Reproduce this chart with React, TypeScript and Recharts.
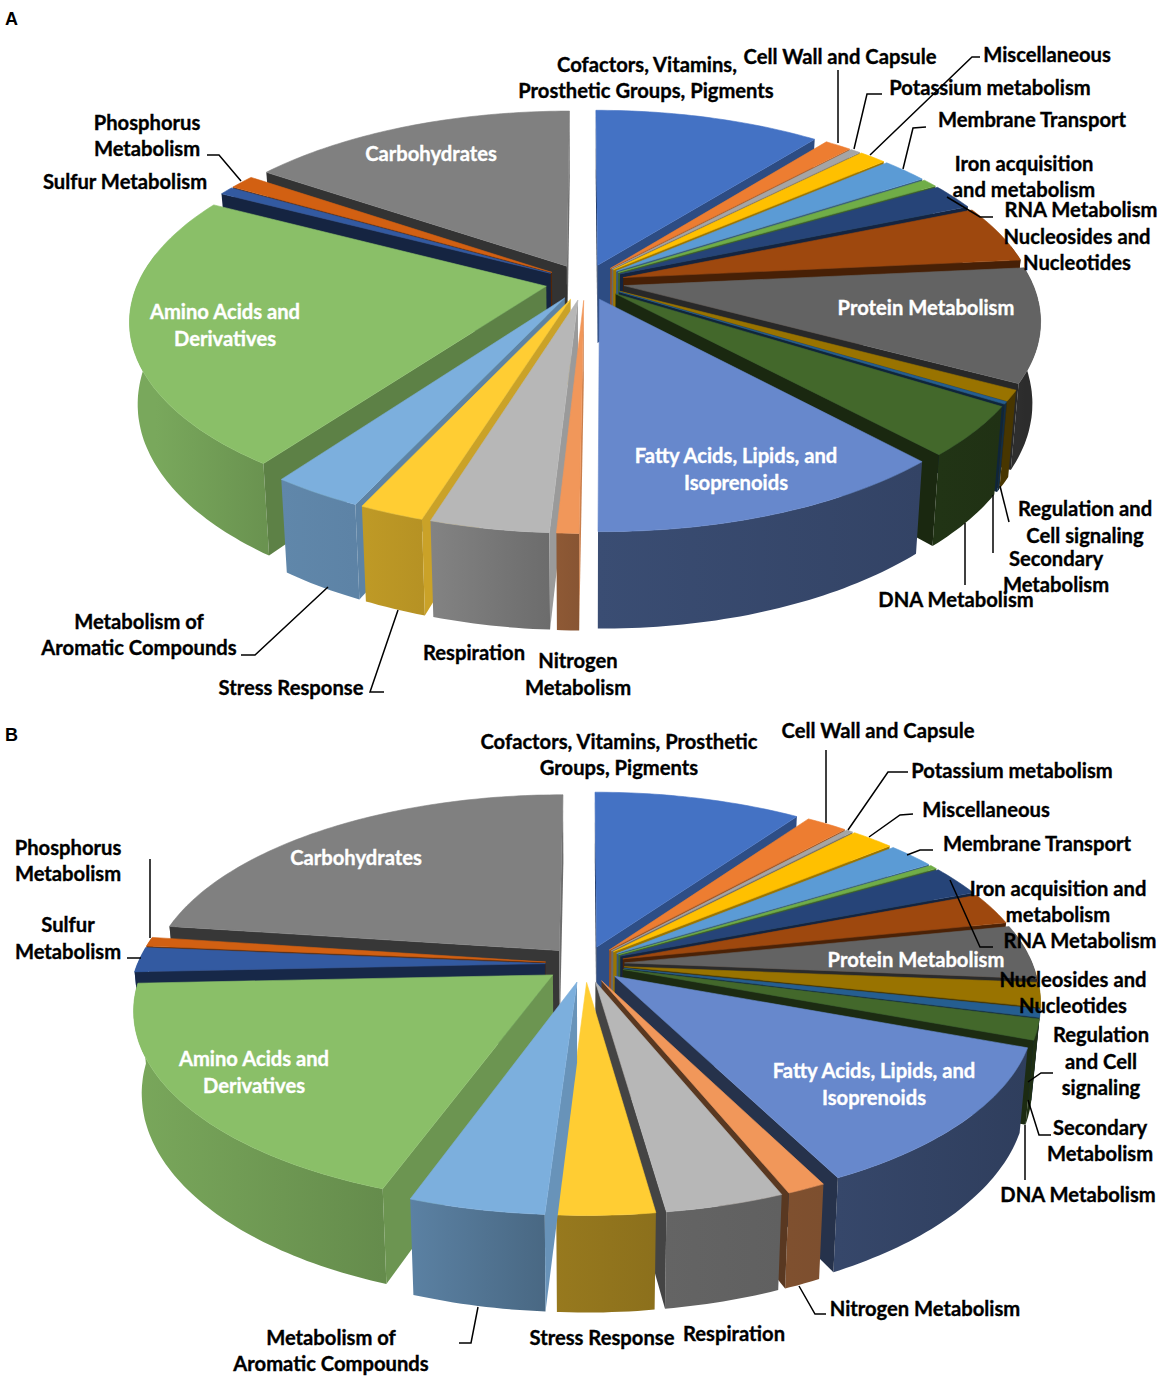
import { PieChart, Pie } from 'recharts';

// Functional categories, clockwise from 12 o'clock
const categories = [
  'Cofactors, Vitamins, Prosthetic Groups, Pigments',
  'Cell Wall and Capsule',
  'Potassium metabolism',
  'Miscellaneous',
  'Membrane Transport',
  'Iron acquisition and metabolism',
  'RNA Metabolism',
  'Nucleosides and Nucleotides',
  'Protein Metabolism',
  'Regulation and Cell signaling',
  'Secondary Metabolism',
  'DNA Metabolism',
  'Fatty Acids, Lipids, and Isoprenoids',
  'Nitrogen Metabolism',
  'Respiration',
  'Stress Response',
  'Metabolism of Aromatic Compounds',
  'Amino Acids and Derivatives',
  'Sulfur Metabolism',
  'Phosphorus Metabolism',
  'Carbohydrates',
];

const valuesA = [10.56, 1.25, 0.47, 1.28, 2.17, 0.72, 2.19, 4.83, 9.5, 0.89, 0.19, 4.17, 11.94, 0.72, 3.89, 2.14, 3.0, 22.86, 0.69, 1.19, 15.39];
const valuesB = [9.67, 1.92, 0.31, 2.0, 2.22, 0.36, 2.56, 2.72, 4.56, 2.03, 0.69, 1.69, 11.89, 1.28, 3.89, 3.17, 4.44, 18.89, 2.08, 0.78, 22.83];

const colors = [
  '#4472C4', '#ED7D31', '#A5A5A5', '#FFC000', '#5B9BD5', '#70AD47', '#264478',
  '#9E480E', '#636363', '#997300', '#255E91', '#43682B', '#6788CC', '#F1975A',
  '#B7B7B7', '#FFCD33', '#7CAFDD', '#8ABF68', '#335AA1', '#D26012', '#808080',
];

// [text, center x, baseline y, white?]
const labelsA: [string, number, number, boolean?][] = [
  ['Cofactors, Vitamins,', 647, 72], ['Prosthetic Groups, Pigments', 646, 98],
  ['Cell Wall and Capsule', 840, 64], ['Miscellaneous', 1047, 62],
  ['Potassium metabolism', 990, 95], ['Membrane Transport', 1032, 127],
  ['Iron acquisition', 1024, 171], ['and metabolism', 1024, 197],
  ['RNA Metabolism', 1081, 217], ['Nucleosides and', 1077, 244], ['Nucleotides', 1077, 270],
  ['Regulation and', 1085, 516], ['Cell signaling', 1085, 543],
  ['Secondary', 1056, 566], ['Metabolism', 1056, 592], ['DNA Metabolism', 956, 607],
  ['Nitrogen', 578, 668], ['Metabolism', 578, 695], ['Respiration', 474, 660],
  ['Stress Response', 291, 695], ['Metabolism of', 139, 629], ['Aromatic Compounds', 139, 655],
  ['Sulfur Metabolism', 125, 189], ['Phosphorus', 147, 130], ['Metabolism', 147, 156],
  ['Protein Metabolism', 926, 315, true], ['Fatty Acids, Lipids, and', 736, 463, true],
  ['Isoprenoids', 736, 490, true], ['Amino Acids and', 225, 319, true],
  ['Derivatives', 225, 346, true], ['Carbohydrates', 431, 161, true],
];
const labelsB: [string, number, number, boolean?][] = [
  ['Cofactors, Vitamins, Prosthetic', 619, 749], ['Groups, Pigments', 619, 775],
  ['Cell Wall and Capsule', 878, 738], ['Potassium metabolism', 1012, 778],
  ['Miscellaneous', 986, 817], ['Membrane Transport', 1037, 851],
  ['Iron acquisition and', 1058, 896], ['metabolism', 1058, 922], ['RNA Metabolism', 1080, 948],
  ['Nucleosides and', 1073, 987], ['Nucleotides', 1073, 1013],
  ['Regulation', 1101, 1042], ['and Cell', 1101, 1069], ['signaling', 1101, 1095],
  ['Secondary', 1100, 1135], ['Metabolism', 1100, 1161], ['DNA Metabolism', 1078, 1202],
  ['Nitrogen Metabolism', 925, 1316], ['Respiration', 734, 1341], ['Stress Response', 602, 1345],
  ['Metabolism of', 331, 1345], ['Aromatic Compounds', 331, 1371],
  ['Sulfur', 68, 932], ['Metabolism', 68, 959], ['Phosphorus', 68, 855], ['Metabolism', 68, 881],
  ['Protein Metabolism', 916, 967, true], ['Fatty Acids, Lipids, and', 874, 1078, true],
  ['Isoprenoids', 874, 1105, true], ['Amino Acids and', 254, 1066, true],
  ['Derivatives', 254, 1093, true], ['Carbohydrates', 356, 865, true],
];

const leadersA = [
  '838,70 838,143', '882,94 867,94 854,149', '980,57 972,57 870,155',
  '926,127 913,128 903,169', '993,217 980,217 947,197', '241,655 255,655 328,587',
  '384,692 370,692 398,610', '207,155 219,155 241,181',
  '1009,522 1000,486', '993,553 993,495', '965,585 965,523',
];
const leadersB = [
  '826,750 826,823', '908,772 888,772 848,830', '913,814 900,815 869,837',
  '933,850 920,850 907,855', '993,947 980,947 950,880', '826,1314 815,1314 799,1286',
  '459,1343 471,1343 478,1307', '150,859 150,938', '127,958 141,958',
  '1053,1073 1041,1073 1028,1082', '1051,1135 1039,1135 1028,1100', '1025,1180 1025,1125',
];

const WIDTH = 1170;
const HEIGHT = 1394;
const FONT = 'Lato, sans-serif';

// 3D look of the Excel chart
const RADIUS = 408;
const TILT = 0.457;
const PERSPECTIVE = 0.17;
const DEPTH = 79;
const EXPLODE = 0.097;
const TAPER = 0.018;

const rad = (d: number) => (d * Math.PI) / 180;
const lerp = (pts: number[][], x: number) => {
  if (x <= pts[0][0]) return pts[0][1];
  for (let i = 1; i < pts.length; i++) {
    if (x <= pts[i][0]) {
      const t = (x - pts[i - 1][0]) / (pts[i][0] - pts[i - 1][0]);
      return pts[i - 1][1] + t * (pts[i][1] - pts[i - 1][1]);
    }
  }
  return pts[pts.length - 1][1];
};
const shade = (hex: string, f: number) => {
  const n = parseInt(hex.slice(1), 16);
  const c = [(n >> 16) & 255, (n >> 8) & 255, n & 255].map((v) => Math.round(v * f));
  return `rgb(${c.join(',')})`;
};
const wallLight = (c: number) => lerp([[100, 0.44], [180, 0.56], [200, 0.74], [270, 0.88]], c);
const sideLight = (n: number) => lerp([[93, 0.84], [110, 0.78], [125, 0.68], [174, 0.45], [210, 0.4], [240, 0.37]], n);

// Draws one slice as an extruded, perspective wedge from the sector the Pie computed
const makeSlice = (panel: string, side: 'right' | 'left') => (props: any) => {
  const { cx, cy, outerRadius, startAngle, endAngle, fill, name } = props;
  let a = 90 - Math.max(startAngle, endAngle);
  let b = 90 - Math.min(startAngle, endAngle);
  if (a < 0) {
    a += 360;
    b += 360;
  }
  const mid = (a + b) / 2;
  if ((mid <= 180) !== (side === 'right')) return <g />;

  const ox = EXPLODE * Math.sin(rad(mid));
  const oy = -EXPLODE * Math.cos(rad(mid));
  const pt = (X: number, Y: number, Z: number) => {
    const s = 1 / (1 - PERSPECTIVE * Y);
    return [cx + outerRadius * X * s * (1 - TAPER * Z), cy + (outerRadius * TILT * Y + DEPTH * Z) * s];
  };
  const rim = (c: number, Z: number) => pt(ox + Math.sin(rad(c)), oy - Math.cos(rad(c)), Z);
  const tip = (Z: number) => pt(ox, oy, Z);
  const path = (pts: number[][]) => 'M' + pts.map((p) => `${p[0].toFixed(1)},${p[1].toFixed(1)}`).join('L') + 'Z';

  const arc: number[] = [];
  for (let c = a; c < b; c += 1) arc.push(c);
  arc.push(b);

  const tipTop = tip(0);
  const faces: any[] = [];

  // side faces, only the ones turned to the viewer
  const sideFace = (edge: number, other: number, normal: number, key: string) => {
    const p = rim(edge, 0);
    const q = rim(other, 0);
    const cross = (p[0] - tipTop[0]) * (q[1] - tipTop[1]) - (p[1] - tipTop[1]) * (q[0] - tipTop[0]);
    const down = p[0] - tipTop[0];
    if (cross * down >= 0) return;
    faces.push(
      <path key={key} d={path([tipTop, p, rim(edge, 1), tip(1)])} fill={shade(fill, sideLight(((normal % 360) + 360) % 360))} />
    );
  };
  sideFace(a, b, a - 90, 's0');
  sideFace(b, a, b + 90, 's1');

  // outer wall, a little past the sides so the silhouette stays full
  const wa = Math.max(a, 80);
  const wb = Math.min(b, 280);
  const gradId = `wall-${panel}-${String(name).replace(/[^A-Za-z]/g, '')}`;
  let wall = null;
  if (wb > wa) {
    const cs = [wa, ...arc.filter((c) => c > wa && c < wb), wb];
    const top = cs.map((c) => rim(c, 0));
    const bottom = cs.map((c) => rim(c, 1)).reverse();
    wall = (
      <g>
        <defs>
          <linearGradient id={gradId} gradientUnits="userSpaceOnUse" x1={rim(wa, 0)[0]} y1={0} x2={rim(wb, 0)[0]} y2={0}>
            <stop offset="0" stopColor={shade(fill, wallLight(wa))} />
            <stop offset="1" stopColor={shade(fill, wallLight(wb))} />
          </linearGradient>
        </defs>
        <path d={path([...top, ...bottom])} fill={`url(#${gradId})`} />
      </g>
    );
  }

  return (
    <g>
      {wall}
      {faces}
      <path d={path([tipTop, ...arc.map((c) => rim(c, 0))])} fill={fill} stroke={fill} strokeWidth={0.6} strokeLinejoin="round" />
    </g>
  );
};

const toRows = (values: number[]) =>
  values.map((value, i) => ({ name: categories[i], value, fill: colors[i] }));

const PiePanel = (panel: string, values: number[], cy: number) => {
  const rows = toRows(values);
  return [
    <Pie key={panel + 'r'} data={rows} dataKey="value" nameKey="name" cx={585} cy={cy} outerRadius={RADIUS}
      startAngle={90} endAngle={-270} stroke="none" isAnimationActive={false}
      shape={makeSlice(panel, 'right')} />,
    <Pie key={panel + 'l'} data={[...rows].reverse()} dataKey="value" nameKey="name" cx={585} cy={cy} outerRadius={RADIUS}
      startAngle={90} endAngle={450} stroke="none" isAnimationActive={false}
      shape={makeSlice(panel, 'left')} />,
  ];
};

const Texts = ({ labels, leaders }: { labels: [string, number, number, boolean?][]; leaders: string[] }) => (
  <g>
    {leaders.map((points, i) => (
      <polyline key={i} points={points} fill="none" stroke="#000" strokeWidth={1.5} />
    ))}
    {labels.map(([text, x, y, white], i) => (
      <text key={i} x={x} y={y} textAnchor="middle" fontFamily={FONT} fontWeight={700} fontSize={20.2}
        fill={white ? '#fff' : '#000'} stroke={white ? '#fff' : '#000'} strokeWidth={0.35}>
        {text}
      </text>
    ))}
  </g>
);

export default function App() {
  return (
    <div style={{ position: 'absolute', left: 0, top: 0, width: WIDTH, height: HEIGHT, background: '#fff' }}>
      <PieChart width={WIDTH} height={HEIGHT} margin={{ top: 0, right: 0, bottom: 0, left: 0 }}>
        {PiePanel('a', valuesA, 282)}
        {PiePanel('b', valuesB, 964)}
      </PieChart>
      {/* Pie sits on a higher layer than plain svg children, so the texts get their own svg on top */}
      <svg width={WIDTH} height={HEIGHT} style={{ position: 'absolute', left: 0, top: 0, pointerEvents: 'none' }}>
        <Texts labels={labelsA} leaders={leadersA} />
        <Texts labels={labelsB} leaders={leadersB} />
        <text x={5} y={25} fontFamily="Liberation Sans, Arial, sans-serif" fontWeight={700} fontSize={18}>A</text>
        <text x={5} y={741} fontFamily="Liberation Sans, Arial, sans-serif" fontWeight={700} fontSize={18}>B</text>
      </svg>
    </div>
  );
}
